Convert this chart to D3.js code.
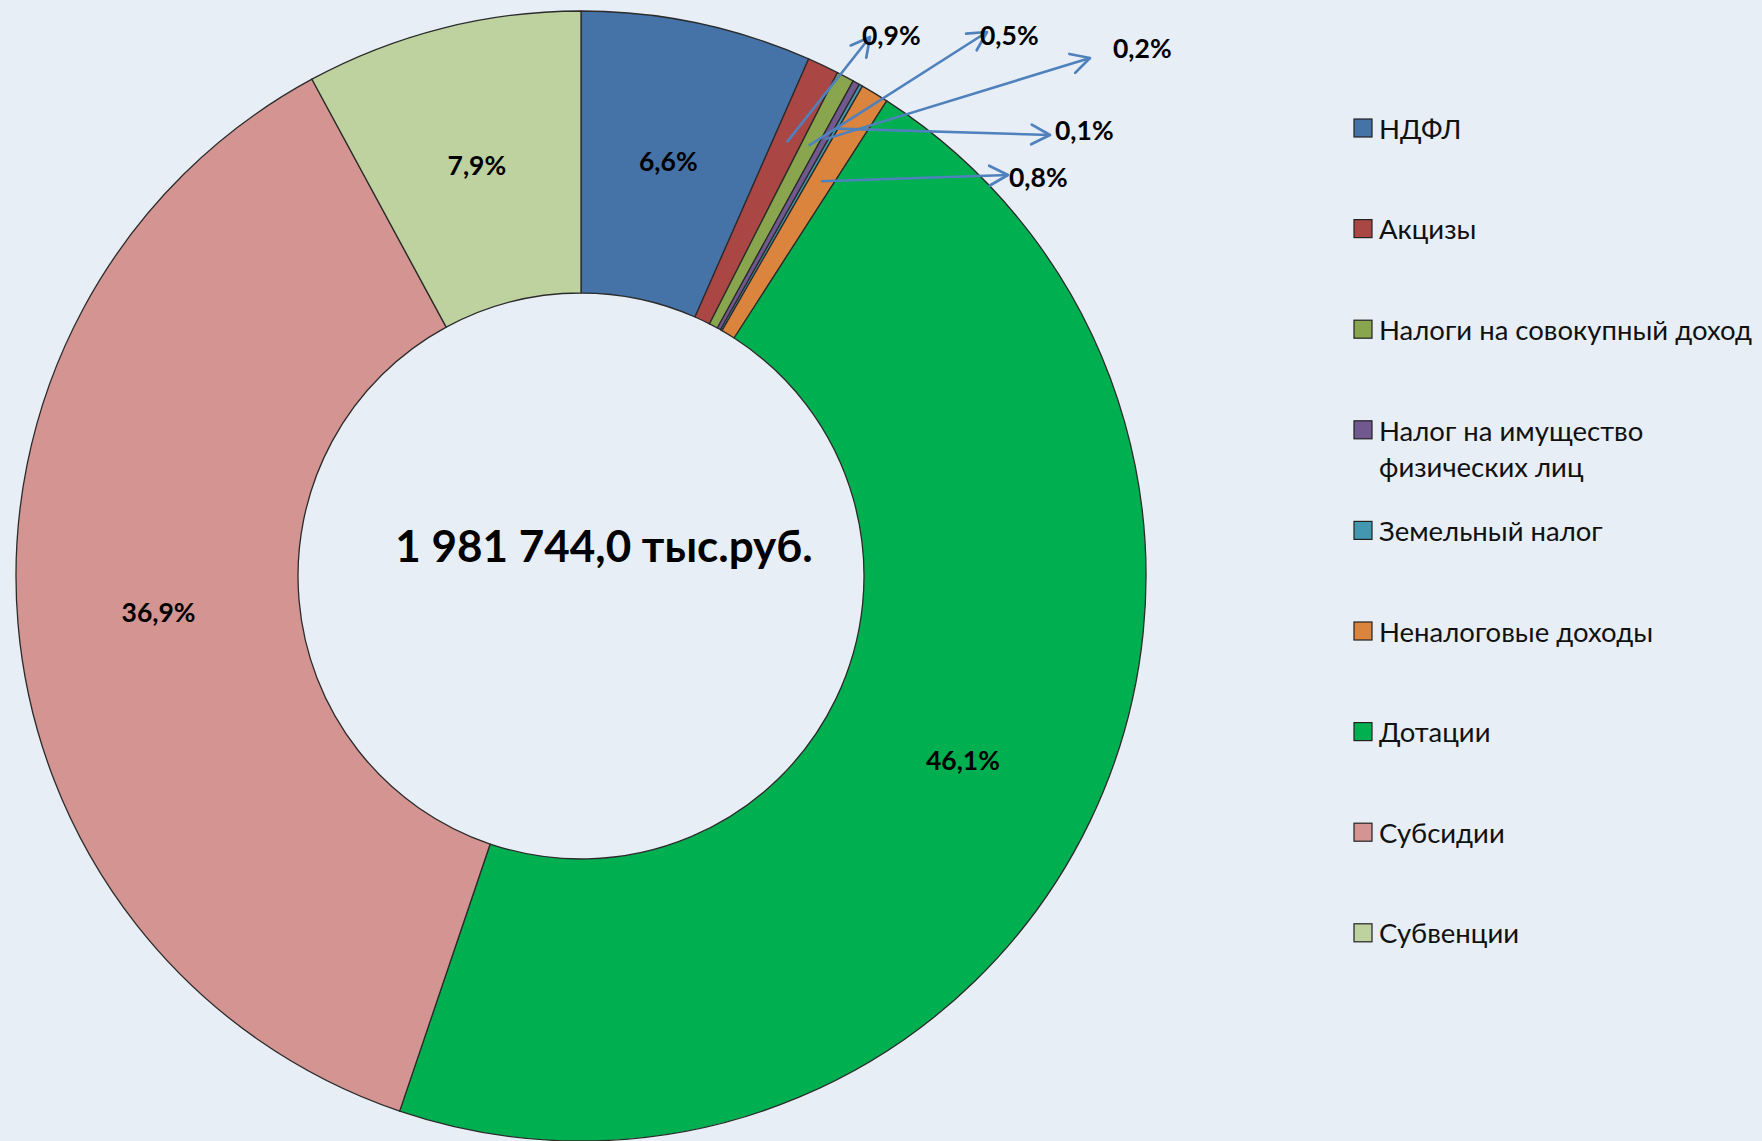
<!DOCTYPE html>
<html>
<head>
<meta charset="utf-8">
<title>Доходы бюджета</title>
<style>
  body { margin: 0; background: #e7eef6; }
  .pct { font-family: Lato, "Open Sans", sans-serif; font-weight: bold; font-size: 26.5px; fill: #000; }
  .total { font-family: Lato, "Open Sans", sans-serif; font-weight: bold; font-size: 44px; fill: #000; }
  .leg { font-family: Lato, "Open Sans", sans-serif; font-size: 27.5px; fill: #111; }
</style>
<script src="https://d3js.org/d3.v7.min.js"></script>
</head>
<body>
<script>
// data
var categories = ["НДФЛ", "Акцизы", "Налоги на совокупный доход", "Налог на имущество физических лиц",
                  "Земельный налог", "Неналоговые доходы", "Дотации", "Субсидии", "Субвенции"];
var shares = [6.6, 0.9, 0.5, 0.2, 0.1, 0.8, 46.1, 36.9, 7.9];
var totalLabel = "1 981 744,0 тыс.руб.";

var colors = ["#4572a7", "#aa4643", "#89a54e", "#71588f", "#4198af", "#db843d", "#00b050", "#d39492", "#bdd29e"];

// label placement for the thin slices (outside, with arrows)
var outside = {1: [862, 35], 2: [980, 35], 3: [1113, 48], 4: [1055, 130], 5: [1009, 177]};
var arrowEnd = {1: [870, 37], 2: [987, 32], 3: [1090, 58], 4: [1050, 135], 5: [1008, 175]};
var inside = {0: true, 6: true, 7: true, 8: true};

var width = 1762, height = 1141;
var cx = 581, cy = 576, R = 565, r0 = 283;

var svg = d3.select("body").append("svg")
    .attr("width", width).attr("height", height)
    .style("display", "block")
    .style("background", "#e7eef6");

var pie = d3.pie().sort(null).value(function(d){ return d; });
var arcs = pie(shares);

var arc = d3.arc().innerRadius(r0).outerRadius(R);

var g = svg.append("g").attr("transform", "translate(" + cx + "," + cy + ")");

g.selectAll("path").data(arcs).enter().append("path")
    .attr("d", arc)
    .attr("fill", function(d, i){ return colors[i]; })
    .attr("stroke", "#2b2b2b")
    .attr("stroke-width", 1.3)
    .attr("stroke-linejoin", "round");

function fmt(v){ return String(v.toFixed(1)).replace(".", ",") + "%"; }

// inside labels
arcs.forEach(function(d, i){
    if (!(i in inside)) return;
    var rr = r0 + (R - r0) * 0.5;
    var c = d3.arc().innerRadius(rr).outerRadius(rr).centroid(d);
    g.append("text").attr("class", "pct")
        .attr("x", c[0]).attr("y", c[1])
        .attr("text-anchor", "middle").attr("dominant-baseline", "central")
        .text(fmt(d.data));
});

// arrows
var defs = svg.append("defs");
defs.append("marker").attr("id", "arr")
    .attr("viewBox", "0 0 20 20").attr("refX", 18).attr("refY", 10)
    .attr("markerWidth", 9.5).attr("markerHeight", 9.5)
    .attr("markerUnits", "strokeWidth")
    .attr("orient", "auto")
  .append("path").attr("d", "M3,2 L18,10 L3,18")
    .attr("fill", "none").attr("stroke", "#4f81bd").attr("stroke-width", 2.2)
    .attr("stroke-linecap", "round").attr("stroke-linejoin", "round");

var startR = {1: 480, 2: 487, 3: 500, 4: 515, 5: 462};
arcs.forEach(function(d, i){
    if (!(i in outside)) return;
    var c = d3.arc().innerRadius(startR[i]).outerRadius(startR[i]).centroid(d);
    svg.append("line")
        .attr("x1", cx + c[0]).attr("y1", cy + c[1])
        .attr("x2", arrowEnd[i][0]).attr("y2", arrowEnd[i][1])
        .attr("stroke", "#4f81bd").attr("stroke-width", 2.6)
        .attr("marker-end", "url(#arr)");
    svg.append("text").attr("class", "pct")
        .attr("x", outside[i][0]).attr("y", outside[i][1])
        .attr("dominant-baseline", "central")
        .text(fmt(d.data));
});

// total in the hole
svg.append("text").attr("class", "total")
    .attr("x", 604).attr("y", 562)
    .attr("text-anchor", "middle")
    .text(totalLabel);

// legend
var legend = svg.append("g").attr("transform", "translate(1354,128)");
var step = 100.6;
var item = legend.selectAll("g").data(categories).enter().append("g")
    .attr("transform", function(d, i){ return "translate(0," + (i * step) + ")"; });
item.append("rect")
    .attr("x", 0).attr("y", -9).attr("width", 18).attr("height", 18)
    .attr("fill", function(d, i){ return colors[i]; })
    .attr("stroke", "#222").attr("stroke-width", 1.2);
item.each(function(d, i){
    var t = d3.select(this).append("text").attr("class", "leg")
        .attr("x", 25).attr("y", 0).attr("dominant-baseline", "central");
    if (i === 3) {
        t.append("tspan").attr("x", 25).attr("dy", 0).text("Налог на имущество");
        t.append("tspan").attr("x", 25).attr("dy", 36).text("физических лиц");
    } else {
        t.text(d);
    }
});
</script>
</body>
</html>
